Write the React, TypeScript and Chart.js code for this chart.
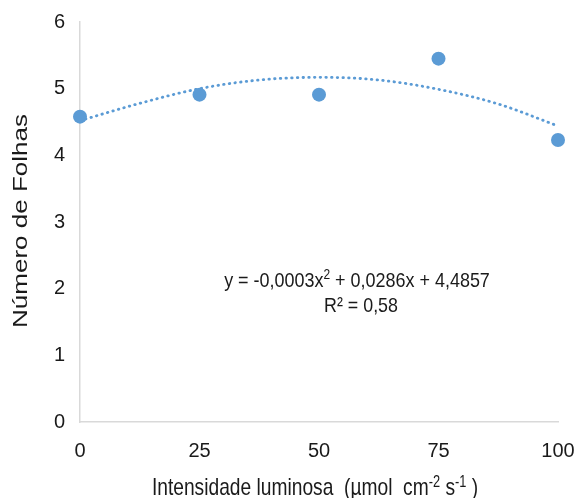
import React, { useEffect, useRef } from "react";
import { Chart, registerables } from "chart.js";

Chart.register(...registerables);

// ---- data ----
const xTicks = [0, 25, 50, 75, 100];
const yTicks = [0, 1, 2, 3, 4, 5, 6];
const lightIntensity = [0, 25, 50, 75, 100];
const leafCounts = [4.58, 4.91, 4.91, 5.45, 4.23];
const trendX = [0, 12.5, 25, 37.5, 50, 62.5, 75, 87.5, 100];
const trendY = [4.52, 4.78, 5.0, 5.13, 5.17, 5.13, 4.99, 4.77, 4.44];

const yTitle = "Número de Folhas";
const xTitleParts = [
  { t: "Intensidade luminosa  (µmol  cm" },
  { t: "-2", sup: true },
  { t: " s" },
  { t: "-1", sup: true },
  { t: " )" },
];
const equationParts = [
  { t: "y = -0,0003x" },
  { t: "2", sup: true },
  { t: " + 0,0286x + 4,4857" },
];
const r2Text = "R² = 0,58";

const BLUE = "#5B9BD5";
const TEXT = "#1a1a1a";
const FONT = "'Liberation Sans', Arial, sans-serif";

type Part = { t: string; sup?: boolean };

function drawRich(
  ctx: CanvasRenderingContext2D,
  parts: Part[],
  cx: number,
  baseline: number,
  size: number,
  supSize: number,
  supRaise: number,
  sx: number
) {
  let total = 0;
  const widths: number[] = [];
  for (const p of parts) {
    ctx.font = `${p.sup ? supSize : size}px ${FONT}`;
    const w = ctx.measureText(p.t).width;
    widths.push(w);
    total += w;
  }
  ctx.save();
  ctx.translate(cx - (total * sx) / 2, baseline);
  ctx.scale(sx, 1);
  ctx.textAlign = "left";
  ctx.textBaseline = "alphabetic";
  let x = 0;
  parts.forEach((p, i) => {
    ctx.font = `${p.sup ? supSize : size}px ${FONT}`;
    ctx.fillText(p.t, x, p.sup ? -supRaise : 0);
    x += widths[i];
  });
  ctx.restore();
}

const textPlugin = {
  id: "customTexts",
  afterDraw(chart: any) {
    const ctx: CanvasRenderingContext2D = chart.ctx;
    ctx.save();
    ctx.fillStyle = TEXT;
    // y title
    ctx.save();
    ctx.translate(21, 221);
    ctx.rotate(-Math.PI / 2);
    ctx.scale(1, 0.8);
    ctx.font = `26px ${FONT}`;
    ctx.textAlign = "center";
    ctx.textBaseline = "middle";
    ctx.fillText(yTitle, 0, 0);
    ctx.restore();
    // x title
    drawRich(ctx, xTitleParts, 315, 495, 24, 16, 8, 0.8);
    // equation
    drawRich(ctx, equationParts, 357, 287, 21, 14, 8, 0.855);
    drawRich(ctx, [{ t: r2Text }], 361, 312, 21, 14, 8, 0.85);
    ctx.restore();
  },
};

export default function App() {
  const ref = useRef<HTMLCanvasElement | null>(null);
  useEffect(() => {
    document.body.style.margin = "0";
    if (!ref.current) return;
    const chart = new Chart(ref.current, {
      type: "scatter",
      data: {
        datasets: [
          {
            label: "Número de Folhas",
            data: lightIntensity.map((x, i) => ({ x, y: leafCounts[i] })),
            backgroundColor: BLUE,
            borderColor: BLUE,
            pointRadius: 7,
            pointBorderWidth: 0,
            clip: false,
            order: 0,
          } as any,
          {
            label: "Tendência",
            type: "line",
            data: trendX.map((x, i) => ({ x, y: trendY[i] })),
            borderColor: BLUE,
            borderWidth: 2.8,
            borderDash: [0.5, 5.2],
            borderCapStyle: "round",
            pointRadius: 0,
            tension: 0.4,
            cubicInterpolationMode: "monotone",
            fill: false,
            order: 1,
          } as any,
        ],
      },
      options: {
        animation: false,
        responsive: true,
        maintainAspectRatio: false,
        layout: { padding: { left: 0, right: 18, top: 22, bottom: 0 } },
        plugins: {
          legend: { display: false },
          tooltip: { enabled: false },
          title: { display: false },
        },
        scales: {
          x: {
            type: "linear",
            min: xTicks[0],
            max: xTicks[xTicks.length - 1],
            afterBuildTicks: (scale: any) => {
              scale.ticks = xTicks.map((v) => ({ value: v }));
            },
            afterFit: (scale: any) => {
              scale.height = 76;
              scale.paddingLeft = 0;
              scale.paddingRight = 0;
            },
            grid: { color: "rgba(0,0,0,0)", drawTicks: false },
            border: { color: "#d9d9d9", width: 1.5 },
            ticks: {
              padding: 17,
              color: TEXT,
              font: { family: FONT, size: 20 },
              maxRotation: 0,
            },
          },
          y: {
            type: "linear",
            min: yTicks[0],
            max: yTicks[yTicks.length - 1],
            afterBuildTicks: (scale: any) => {
              scale.ticks = yTicks.map((v) => ({ value: v }));
            },
            afterFit: (scale: any) => {
              scale.width = 80;
              scale.paddingTop = 0;
              scale.paddingBottom = 0;
            },
            grid: { color: "rgba(0,0,0,0)", drawTicks: false },
            border: { color: "#d9d9d9", width: 1.5 },
            ticks: {
              padding: 15,
              color: TEXT,
              font: { family: FONT, size: 20 },
            },
          },
        },
      },
      plugins: [textPlugin],
    });
    return () => chart.destroy();
  }, []);
  return (
    <div style={{ width: 576, height: 498, position: "relative" }}>
      <canvas ref={ref} />
    </div>
  );
}
